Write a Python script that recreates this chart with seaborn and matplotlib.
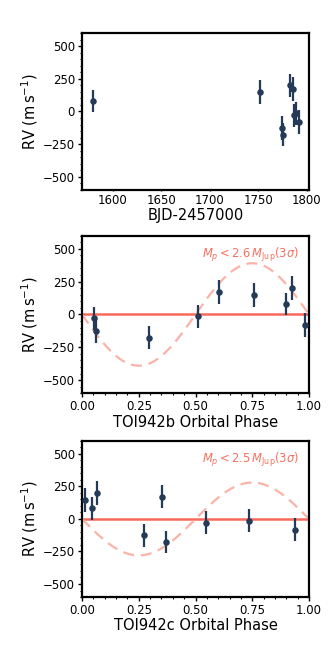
import numpy as np
import pandas as pd
import matplotlib
matplotlib.use("Agg")
import matplotlib.pyplot as plt
from matplotlib.ticker import AutoMinorLocator
import seaborn as sns

# --- data ---
bjd = [1579.3, 1751.7, 1774.2, 1775.5, 1782.4, 1785.9, 1787.2, 1789.0, 1791.8]
rv = [81, 146, -126, -177, 200, 172, -28, -15, -82]
rv_err = [85, 92, 90, 88, 90, 90, 88, 88, 90]

phase_b = [0.897, 0.759, 0.062, 0.294, 0.924, 0.603, 0.053, 0.509, 0.984]
phase_c = [0.044, 0.015, 0.271, 0.369, 0.066, 0.353, 0.544, 0.737, 0.940]

K_b = 390
K_c = 280
label_b = r"$M_p < 2.6\,M_{\rm Jup} (3\sigma)$"
label_c = r"$M_p < 2.5\,M_{\rm Jup} (3\sigma)$"

yticks = [-500, -250, 0, 250, 500]

sns.set_theme(style="ticks")
plt.rcParams['font.family'] = ['DejaVu Sans']
plt.rcParams.update({
    "text.color": "black", "axes.labelcolor": "black",
    "xtick.color": "black", "ytick.color": "black",
})

pt_color = "#243a56"
zero_color = "#f8695b"
curve_color = "#fbb3a8"
text_color = "#f6705f"

fig = plt.figure(figsize=(3.32, 6.64), dpi=100)
pos = [
    [0.247, 0.7139, 0.684, 0.2364],
    [0.247, 0.4077, 0.684, 0.2374],
    [0.247, 0.1009, 0.684, 0.2350],
]
axes = [fig.add_axes(p) for p in pos]

df = pd.DataFrame({"bjd": bjd, "rv": rv, "err": rv_err,
                   "pb": phase_b, "pc": phase_c})

def style(ax):
    for s in ax.spines.values():
        s.set_linewidth(1.6)
        s.set_color("black")
    ax.tick_params(axis="both", which="major", labelsize=8.5, length=3.0, width=1.0, direction="out", pad=2)
    ax.tick_params(axis="both", which="minor", length=1.6, width=0.8, direction="out")
    ax.set_ylim(-600, 600)
    ax.set_yticks(yticks)
    ax.yaxis.set_minor_locator(AutoMinorLocator(5))
    ax.set_ylabel(r"RV (m$\,$s$^{-1}$)", fontsize=10.5, labelpad=2)

# top panel
ax = axes[0]
ax.errorbar(df["bjd"], df["rv"], yerr=df["err"], fmt="none", ecolor=pt_color, elinewidth=1.6, zorder=2)
sns.scatterplot(data=df, x="bjd", y="rv", ax=ax, color=pt_color, s=22, edgecolor=pt_color, linewidth=0, zorder=3)
ax.set_xlim(1568, 1802.5)
ax.set_xticks([1600, 1650, 1700, 1750, 1800])
style(ax)
ax.tick_params(axis="x", which="major", length=0.8)
ax.set_xlabel("BJD-2457000", fontsize=10.5, labelpad=1)

phgrid = np.linspace(0, 1, 300)
for ax, col, K, lab, xl in [(axes[1], "pb", K_b, label_b, "TOI942b Orbital Phase"),
                            (axes[2], "pc", K_c, label_c, "TOI942c Orbital Phase")]:
    ax.axhline(0, color=zero_color, lw=1.8, zorder=1)
    model = pd.DataFrame({"ph": phgrid, "v": -K * np.sin(2 * np.pi * phgrid)})
    sns.lineplot(data=model, x="ph", y="v", ax=ax, color=curve_color, lw=1.6, linestyle=(0, (5, 3)), zorder=1)
    ax.errorbar(df[col], df["rv"], yerr=df["err"], fmt="none", ecolor=pt_color, elinewidth=1.6, zorder=2)
    sns.scatterplot(data=df, x=col, y="rv", ax=ax, color=pt_color, s=22, edgecolor=pt_color, linewidth=0, zorder=3)
    ax.set_xlim(0, 1)
    ax.set_xticks([0, 0.25, 0.5, 0.75, 1.0])
    ax.set_xticklabels(["0.00", "0.25", "0.50", "0.75", "1.00"])
    ax.xaxis.set_minor_locator(AutoMinorLocator(5))
    style(ax)
    ax.set_xlabel(xl, fontsize=10.5, labelpad=1)
    ax.text(0.955, 455, lab, color=text_color, fontsize=8.3, ha="right", va="center")

fig.savefig("out.png", dpi=100)
